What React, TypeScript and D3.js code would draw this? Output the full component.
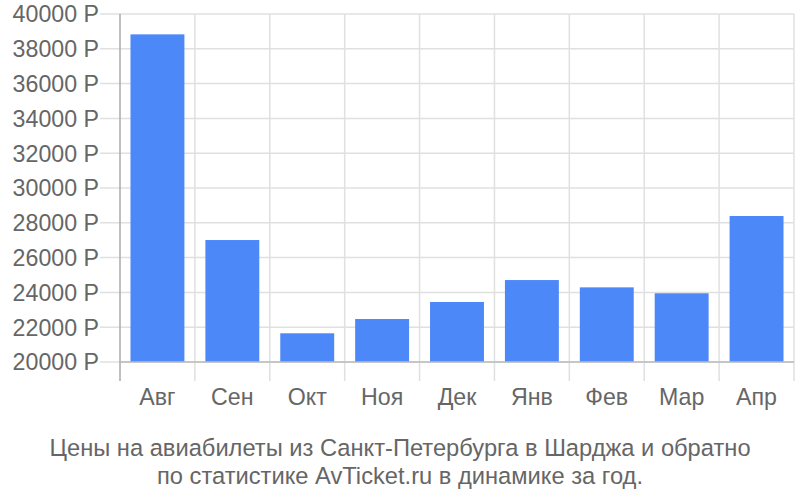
import React from "react";
import * as d3 from "d3";

const months = ["Авг", "Сен", "Окт", "Ноя", "Дек", "Янв", "Фев", "Мар", "Апр"];
const prices = [38830, 27010, 21650, 22470, 23450, 24710, 24290, 23950, 28390];
const yTicks = [20000, 22000, 24000, 26000, 28000, 30000, 32000, 34000, 36000, 38000, 40000];
const titleLines = [
  "Цены на авиабилеты из Санкт-Петербурга в Шарджа и обратно",
  "по статистике AvTicket.ru в динамике за год.",
];

const W = 800;
const H = 500;
const left = 120;
const right = 794;
const top = 14;
const bottom = 362;
const font = "'Liberation Sans', Arial, sans-serif";
const textColor = "#666";

export default function App() {
  const x = d3.scaleBand<string>().domain(months).range([left, right]).paddingInner(0.28).paddingOuter(0.14);
  const xStep = d3.scaleBand<string>().domain(months).range([left, right]).padding(0);
  const y = d3.scaleLinear().domain([20000, 40000]).range([bottom, top]);

  return (
    <svg width={W} height={H} style={{ position: "absolute", left: 0, top: 0, background: "#fff" }}>
      {yTicks.map((t) => (
        <line key={"h" + t} x1={100} x2={right} y1={y(t)} y2={y(t)} stroke="#e0e0e0" strokeWidth={1.5} />
      ))}
      {months.map((m) => (
        <line key={"v" + m} x1={xStep(m)! + xStep.step()} x2={xStep(m)! + xStep.step()} y1={top} y2={381} stroke="#e0e0e0" strokeWidth={1.5} />
      ))}
      {months.map((m, i) => (
        <rect key={"b" + m} x={x(m)} y={y(prices[i])} width={x.bandwidth()} height={bottom - y(prices[i])} fill="#4d88f9" />
      ))}
      <line x1={left} x2={left} y1={top} y2={381} stroke="#aaa" strokeWidth={1.5} />
      <line x1={left} x2={right} y1={bottom} y2={bottom} stroke="#bbb" strokeWidth={1.5} />
      {yTicks.map((t) => (
        <text key={"t" + t} x={99} y={y(t)} dy="0.36em" textAnchor="end" fontFamily={font} fontSize={23.2} fill={textColor}>
          {t} Р
        </text>
      ))}
      {months.map((m) => (
        <text key={"l" + m} x={xStep(m)! + xStep.step() / 2} y={405} textAnchor="middle" fontFamily={font} fontSize={23.2} fill={textColor}>
          {m}
        </text>
      ))}
      {titleLines.map((l, i) => (
        <text key={"title" + i} x={400} y={456 + i * 28} textAnchor="middle" fontFamily={font} fontSize={23.7} fill={textColor}>
          {l}
        </text>
      ))}
    </svg>
  );
}
